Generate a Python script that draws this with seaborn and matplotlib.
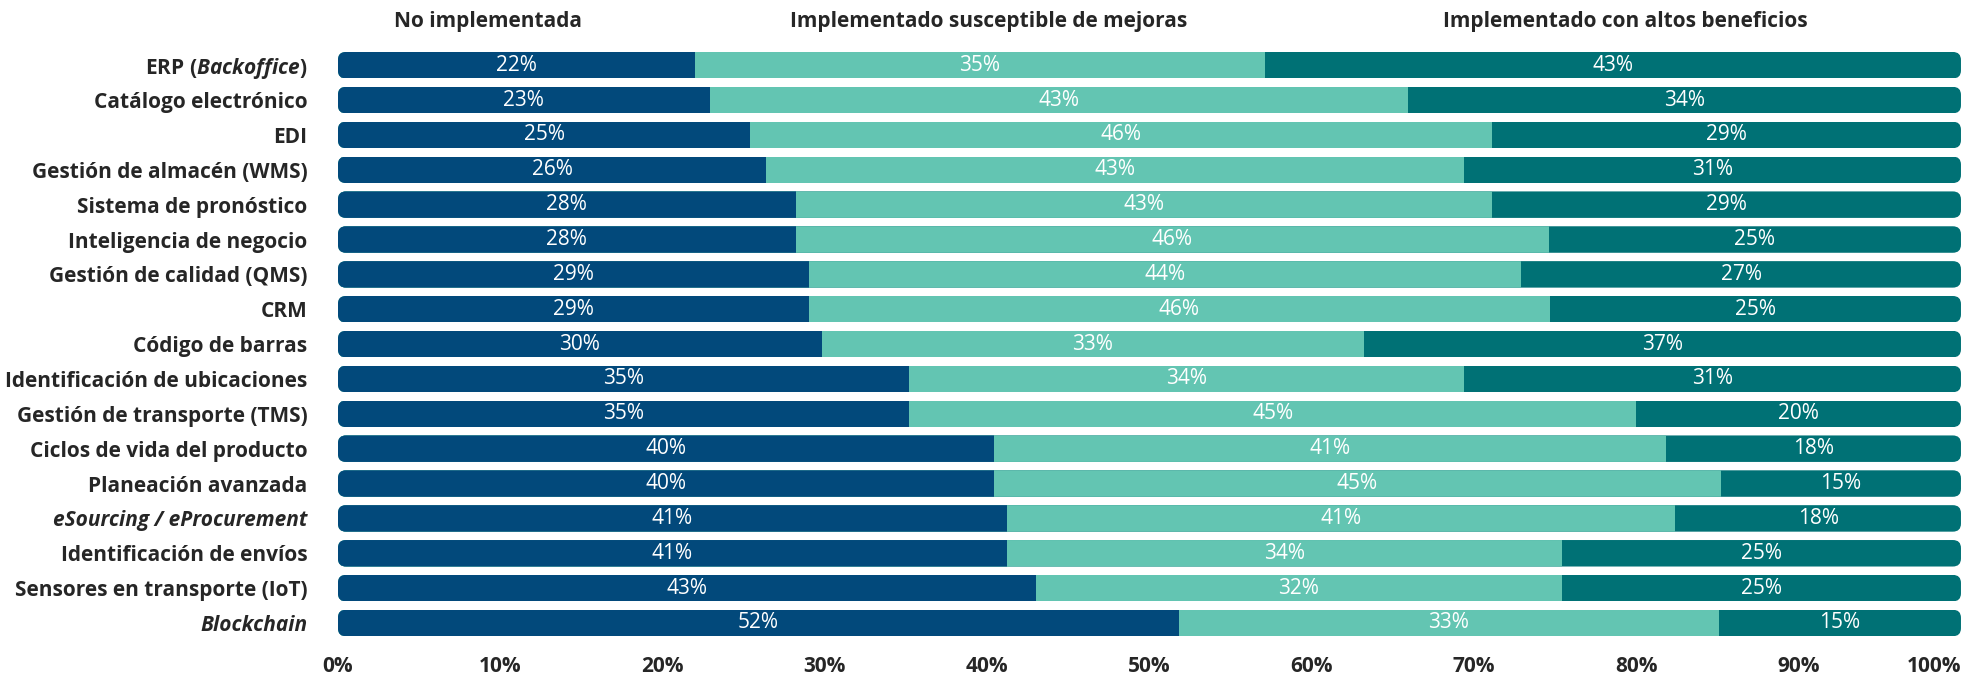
import pandas as pd
import seaborn as sns
import matplotlib.pyplot as plt
from matplotlib.patches import FancyBboxPatch

categories = [
    "ERP ($\\mathbfit{Backoffice}$)", "Catálogo electrónico", "EDI",
    "Gestión de almacén (WMS)", "Sistema de pronóstico", "Inteligencia de negocio",
    "Gestión de calidad (QMS)", "CRM", "Código de barras",
    "Identificación de ubicaciones", "Gestión de transporte (TMS)",
    "Ciclos de vida del producto", "Planeación avanzada",
    "eSourcing / eProcurement", "Identificación de envíos",
    "Sensores en transporte (IoT)", "Blockchain",
]
italic_labels = ["eSourcing / eProcurement", "Blockchain"]

no_implementada = [22.0, 22.9, 25.4, 26.4, 28.2, 28.2, 29.0, 29.0, 29.8,
                   35.2, 35.2, 40.4, 40.4, 41.2, 41.2, 43.0, 51.8]
susceptible_mejoras = [35.1, 43.0, 45.7, 43.0, 42.9, 46.4, 43.9, 45.7, 33.4,
                       34.2, 44.8, 41.4, 44.8, 41.2, 34.2, 32.4, 33.3]
altos_beneficios = [42.9, 34.1, 28.9, 30.6, 28.9, 25.4, 27.1, 25.3, 36.8,
                    30.6, 20.0, 18.2, 14.8, 17.6, 24.6, 24.6, 14.9]

series_names = ["No implementada", "Implementado susceptible de mejoras",
                "Implementado con altos beneficios"]
colors = ["#02497b", "#63c5b2", "#007175"]

df = pd.DataFrame({"cat": categories, "a": no_implementada,
                   "b": susceptible_mejoras, "c": altos_beneficios})
df["ab"] = df["a"] + df["b"]
df["abc"] = df["ab"] + df["c"]

sns.set_style("white")
plt.rcParams['font.family'] = ['Open Sans', 'DejaVu Sans']
plt.rcParams['mathtext.fontset'] = 'custom'
plt.rcParams['mathtext.bfit'] = 'Open Sans:bold:italic'
plt.rcParams['mathtext.rm'] = 'Open Sans:bold'

fig = plt.figure(figsize=(19.74, 6.73), dpi=100)
ax = fig.add_axes([0.1712, 0.0484, 0.8222, 0.8806])

bar_h = 0.76
# stacked bars: draw cumulative totals back to front
for col, color in zip(["abc", "ab", "a"], colors[::-1]):
    sns.barplot(data=df, x=col, y="cat", color=color, orient="h", width=bar_h,
                saturation=1, linewidth=0, ax=ax)

# rounded ends for each whole bar
bars = list(ax.patches)
clips = []
for i in range(len(categories)):
    box = FancyBboxPatch((0, i - bar_h / 2), 100, bar_h,
                         boxstyle="round,pad=0,rounding_size=0.5",
                         mutation_aspect=0.46, transform=ax.transData,
                         facecolor="none", edgecolor="none")
    ax.add_patch(box)
    clips.append(box)
for p in bars:
    row = int(round(p.get_y() + p.get_height() / 2))
    p.set_clip_path(clips[row])

# value labels
for i, row in df.iterrows():
    starts = [0, row["a"], row["ab"]]
    for start, val in zip(starts, [row["a"], row["b"], row["c"]]):
        ax.text(start + val / 2, i, f"{val:.0f}%", color="white",
                ha="center", va="center", fontsize=15)

ax.set_xlim(0, 100)
ax.set_ylim(len(categories) - 0.5, -0.5)
ax.set_xticks(range(0, 101, 10))
ax.set_xticklabels([f"{t}%" for t in range(0, 101, 10)], fontweight="bold", fontsize=15)
ax.get_xticklabels()[-1].set_horizontalalignment("right")
ax.set_xlabel("")
ax.set_ylabel("")
for lab in ax.get_yticklabels():
    lab.set_fontweight("bold")
    lab.set_fontsize(15)
    if lab.get_text() in italic_labels:
        lab.set_style("italic")
ax.tick_params(axis="y", length=0, pad=22)
ax.tick_params(axis="x", length=0, pad=11)
sns.despine(ax=ax, left=True, bottom=True)

# column headers
for name, xc in zip(series_names, [488, 989, 1625]):
    fig.text(xc / 1974, 1 - 21.5 / 673, name, ha="center", va="center",
             fontweight="bold", fontsize=15)

plt.savefig("out.png", dpi=100)
